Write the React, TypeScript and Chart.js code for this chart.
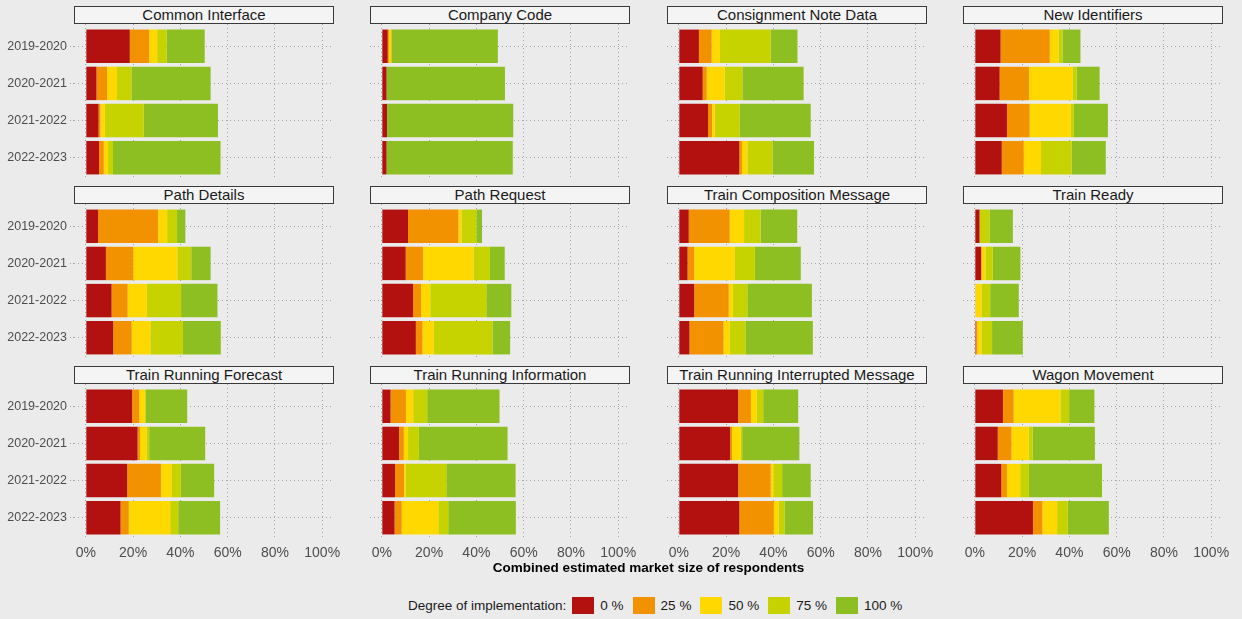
import React, { useEffect, useRef } from "react";
import { Chart, registerables } from "chart.js";

Chart.register(...registerables);

// ---------- data ----------
const years = ["2019-2020", "2020-2021", "2021-2022", "2022-2023"];
const levels = ["0 %", "25 %", "50 %", "75 %", "100 %"];
const levelColors = ["#B3110F", "#F39200", "#FFD800", "#C6D300", "#8DBE22"];
const xTickValues = [0, 20, 40, 60, 80, 100];

const panelTitles = [
  "Common Interface",
  "Company Code",
  "Consignment Note Data",
  "New Identifiers",
  "Path Details",
  "Path Request",
  "Train Composition Message",
  "Train Ready",
  "Train Running Forecast",
  "Train Running Information",
  "Train Running Interrupted Message",
  "Wagon Movement",
];

// each row = one degree of implementation (0 %, 25 %, 50 %, 75 %, 100 %), columns = years
const commonInterface = [
  [18.6, 4.5, 5.4, 5.6],
  [8.2, 4.5, 0.8, 2.0],
  [3.4, 4.2, 1.8, 1.8],
  [4.0, 6.1, 16.5, 2.1],
  [16.1, 33.5, 31.4, 45.5],
];
const companyCode = [
  [2.5, 2.0, 2.2, 2.0],
  [0.5, 0, 0, 0],
  [1.0, 0, 0, 0],
  [0, 0, 0, 0],
  [45.1, 50.1, 53.4, 53.4],
];
const consignmentNoteData = [
  [8.5, 10.1, 12.4, 25.6],
  [5.4, 1.7, 1.7, 1.1],
  [3.5, 7.6, 1.1, 2.3],
  [21.5, 7.5, 10.6, 10.6],
  [11.3, 25.9, 30.0, 17.6],
];
const newIdentifiers = [
  [10.9, 10.5, 13.6, 11.4],
  [20.8, 12.4, 9.6, 9.3],
  [3.7, 18.4, 17.4, 7.3],
  [1.7, 1.8, 1.3, 13.0],
  [7.6, 9.7, 14.4, 14.4],
];
const pathDetails = [
  [5.2, 8.5, 10.9, 11.6],
  [25.4, 11.6, 6.8, 7.8],
  [3.8, 18.6, 8.1, 7.9],
  [4.2, 5.9, 14.5, 13.8],
  [3.5, 8.2, 15.4, 16.0],
];
const pathRequest = [
  [11.1, 10.1, 13.2, 14.4],
  [21.3, 7.3, 3.4, 2.8],
  [1.3, 21.4, 3.9, 4.8],
  [6.3, 6.9, 23.7, 24.8],
  [2.4, 6.3, 10.6, 7.5],
];
const trainCompositionMessage = [
  [4.2, 3.7, 6.5, 4.5],
  [17.3, 2.8, 14.6, 14.4],
  [6.1, 17.2, 1.8, 2.7],
  [7.0, 8.5, 6.1, 6.6],
  [15.5, 19.4, 27.3, 28.5],
];
const trainReady = [
  [2.0, 2.7, 0, 0.4],
  [0, 0, 0.3, 0.7],
  [0, 1.8, 2.5, 1.7],
  [4.2, 3.1, 3.7, 4.5],
  [9.9, 11.7, 12.1, 13.0],
];
const trainRunningForecast = [
  [19.6, 21.9, 17.5, 14.7],
  [3.0, 1.0, 14.3, 3.5],
  [2.4, 2.8, 4.4, 17.5],
  [0.4, 1.1, 4.0, 3.4],
  [17.5, 23.7, 14.1, 17.7],
];
const trainRunningInformation = [
  [3.7, 7.3, 5.6, 5.4],
  [6.5, 2.0, 3.8, 3.0],
  [3.1, 1.8, 0.7, 15.5],
  [5.9, 4.6, 17.2, 4.2],
  [30.6, 37.5, 29.3, 28.6],
];
const trainRunningInterruptedMessage = [
  [25.1, 21.7, 25.1, 25.6],
  [5.4, 0.8, 13.8, 14.6],
  [2.5, 3.7, 1.1, 2.0],
  [2.7, 0.6, 3.7, 2.5],
  [14.8, 24.2, 12.1, 12.1],
];
const wagonMovement = [
  [11.9, 9.7, 11.2, 24.6],
  [4.5, 5.8, 2.4, 4.0],
  [19.8, 7.3, 5.6, 6.2],
  [3.7, 1.7, 3.7, 4.5],
  [10.7, 26.3, 30.9, 17.4],
];

const panelValues = [
  commonInterface,
  companyCode,
  consignmentNoteData,
  newIdentifiers,
  pathDetails,
  pathRequest,
  trainCompositionMessage,
  trainReady,
  trainRunningForecast,
  trainRunningInformation,
  trainRunningInterruptedMessage,
  wagonMovement,
];

// ---------- layout ----------
const FONT = "'Liberation Sans', Arial, Helvetica, sans-serif";
const BG = "#EBEBEB";
const GRID = "#A4A4A4";
const PANEL_W = 260;
const PANEL_H = 156;
const COL_LEFT = [74, 370, 667, 963];
const ROW_TOP = [24, 204, 384];
const Y_AXIS_W = 74;
const SIDE_PAD = 15;
const X_AXIS_H = 24;

function Panel({ title, values, row, col }: { title: string; values: number[][]; row: number; col: number }) {
  const ref = useRef<HTMLCanvasElement>(null);
  const yW = col === 0 ? Y_AXIS_W : 0;
  const padL = col === 0 ? 0 : SIDE_PAD;
  const xH = row === 2 ? X_AXIS_H : 0;
  const canvasLeft = COL_LEFT[col] - yW - padL;
  const canvasTop = ROW_TOP[row];
  const cw = yW + padL + PANEL_W + SIDE_PAD;
  const ch = PANEL_H + xH;

  useEffect(() => {
    const chart = new Chart(ref.current as HTMLCanvasElement, {
      type: "bar",
      data: {
        datasets: levels.map((lv, i) => ({
          label: lv,
          data: values[i].map((v, j) => ({ x: v, y: j + 1 })),
          backgroundColor: levelColors[i],
          borderWidth: 0,
          categoryPercentage: 1,
          barPercentage: 0.9,
          stack: "s",
        })),
      },
      options: {
        indexAxis: "y",
        animation: false,
        responsive: true,
        maintainAspectRatio: false,
        layout: { padding: { left: padL, right: SIDE_PAD, top: 0, bottom: 0 } },
        plugins: { legend: { display: false }, tooltip: { enabled: false }, title: { display: false } },
        scales: {
          x: {
            type: "linear",
            stacked: true,
            offset: false,
            min: -5,
            max: 105,
            afterBuildTicks: (s: any) => {
              s.ticks = xTickValues.map((v) => ({ value: v }));
            },
            afterFit: (s: any) => {
              s.height = xH;
              s.paddingLeft = 0;
              s.paddingRight = 0;
            },
            ticks: {
              display: row === 2,
              callback: (v: any) => `${v}%`,
              color: "#4D4D4D",
              font: { family: FONT, size: 14 },
              padding: 5,
              maxRotation: 0,
              autoSkip: false,
            },
            grid: { color: GRID, lineWidth: 1, drawTicks: false, offset: false },
            border: { display: false, dash: [1, 3] },
          },
          y: {
            type: "linear",
            reverse: true,
            offset: false,
            min: 0.4,
            max: 4.6,
            afterBuildTicks: (s: any) => {
              s.ticks = years.map((_, i) => ({ value: i + 1 }));
            },
            afterFit: (s: any) => {
              s.width = yW;
              s.paddingTop = 0;
              s.paddingBottom = 0;
            },
            ticks: {
              display: col === 0,
              callback: (v: any) => years[Number(v) - 1] ?? "",
              color: "#4D4D4D",
              font: { family: FONT, size: 12.5 },
              padding: 3,
              autoSkip: false,
            },
            grid: {
              color: GRID,
              lineWidth: 1,
              offset: false,
              drawTicks: col === 0,
              tickLength: 4,
              tickColor: GRID,
              tickBorderDash: [1, 2],
            },
            border: { display: false, dash: [1, 3] },
          },
        },
      },
    } as any);
    return () => chart.destroy();
  }, []);

  return (
    <>
      <div style={{ position: "absolute", left: canvasLeft, top: canvasTop, width: cw, height: ch }}>
        <canvas ref={ref} />
      </div>
      <div
        style={{
          position: "absolute",
          left: COL_LEFT[col],
          top: ROW_TOP[row] - 18,
          width: PANEL_W,
          height: 18,
          boxSizing: "border-box",
          border: "1px solid #3A3A3A",
          background: "#F4F4F4",
          color: "#1A1A1A",
          fontFamily: FONT,
          fontSize: 15,
          lineHeight: "16px",
          textAlign: "center",
          whiteSpace: "nowrap",
          overflow: "hidden",
        }}
      >
        {title}
      </div>
    </>
  );
}

export default function App() {
  return (
    <div
      style={{
        position: "fixed",
        left: 0,
        top: 0,
        width: 1242,
        height: 619,
        background: BG,
        overflow: "hidden",
        fontFamily: FONT,
      }}
    >
      {panelTitles.map((t, i) => (
        <Panel key={t} title={t} values={panelValues[i]} row={Math.floor(i / 4)} col={i % 4} />
      ))}
      <div
        style={{
          position: "absolute",
          left: COL_LEFT[0],
          width: COL_LEFT[3] + PANEL_W - COL_LEFT[0],
          top: 560,
          textAlign: "center",
          fontWeight: "bold",
          fontSize: 13.5,
          lineHeight: "16px",
          color: "#000",
        }}
      >
        Combined estimated market size of respondents
      </div>
      <div
        style={{
          position: "absolute",
          left: 408,
          top: 596,
          height: 18,
          display: "flex",
          alignItems: "center",
          fontSize: 13.5,
          color: "#1A1A1A",
          whiteSpace: "nowrap",
        }}
      >
        <span style={{ marginRight: 6 }}>Degree of implementation:</span>
        {levels.map((lv, i) => (
          <React.Fragment key={lv}>
            <span style={{ display: "inline-block", width: 22, height: 17, background: levelColors[i], marginRight: 6 }} />
            <span style={{ marginRight: 9 }}>{lv}</span>
          </React.Fragment>
        ))}
      </div>
    </div>
  );
}
